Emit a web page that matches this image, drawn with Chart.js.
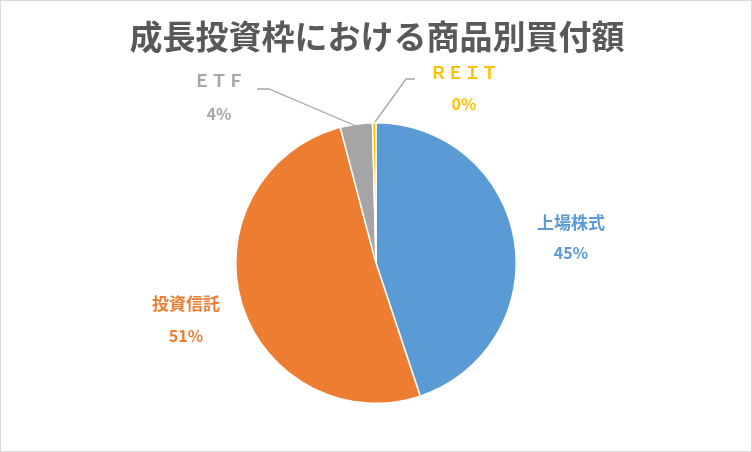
<!DOCTYPE html>
<html><head><meta charset="utf-8">
<script src="https://cdn.jsdelivr.net/npm/chart.js@4"></script>
<style>html,body{margin:0;padding:0;background:#fff}#w{width:752px;height:452px;position:relative;box-sizing:border-box;border:1px solid #d9d9d9}</style>
</head><body><div id="w"><canvas id="c"></canvas></div>
<script>
const title = "成長投資枠における商品別買付額";
const categories = ["上場株式", "投資信託", "ＥＴＦ", "ＲＥＩＴ"];
const values = [44.9, 51.0, 3.7, 0.4];
const colors = ["#5b9bd5", "#ed7d31", "#a5a5a5", "#ffc000"];
const labelPos = [[570,222,570,252],[185,303,185,335],[218,80,218,113],[463,72,463,103]];
const total = values.reduce((a,b)=>a+b,0);
const labelPlugin = {
  id:'lbl',
  afterDraw(chart){
    const ctx = chart.ctx;
    ctx.save();
    ctx.fillStyle = "#595959";
    ctx.font = "bold 33px 'Noto Sans CJK JP'";
    ctx.textAlign = "center"; ctx.textBaseline = "middle";
    ctx.fillText(title, 376, 35);
    ctx.strokeStyle = "#a6a6a6"; ctx.lineWidth = 1.3;
    ctx.beginPath(); ctx.moveTo(256,88); ctx.lineTo(268,88); ctx.lineTo(355,125); ctx.stroke();
    ctx.beginPath(); ctx.moveTo(414,78); ctx.lineTo(405,78); ctx.lineTo(374,121); ctx.stroke();
    categories.forEach((c,i)=>{
      const p = labelPos[i];
      ctx.fillStyle = colors[i];
      ctx.font = "bold 17px 'Noto Sans CJK JP'";
      ctx.fillText(c, p[0], p[1]);
      ctx.font = "bold 16px 'Noto Sans CJK JP'";
      ctx.fillText(Math.round(values[i]/total*100)+"%", p[2], p[3]);
    });
    ctx.restore();
  }
};
new Chart(document.getElementById('c'),{
  type:'pie',
  data:{labels:categories,datasets:[{data:values,backgroundColor:colors,borderColor:"#fff",borderWidth:1.5}]},
  options:{responsive:true,maintainAspectRatio:false,animation:false,
    layout:{padding:{top:121,bottom:47,left:0,right:0}},
    plugins:{legend:{display:false},tooltip:{enabled:false}}},
  plugins:[labelPlugin]
});
</script></body></html>
